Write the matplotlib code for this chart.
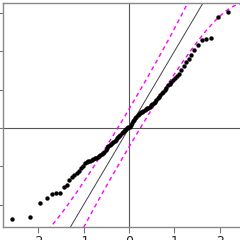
import numpy as np
import matplotlib
matplotlib.use("Agg")
import matplotlib.pyplot as plt
from statistics import NormalDist

plt.rcParams['axes.unicode_minus'] = False

# sorted sample values
sample_low = [-1.18, -1.16, -0.97, -0.91, -0.86, -0.85, -0.845, -0.77, -0.735, -0.675,
              -0.64, -0.61, -0.58, -0.555, -0.52, -0.49, -0.46, -0.445, -0.435, -0.425,
              -0.415, -0.405, -0.395, -0.385, -0.375, -0.365, -0.35, -0.34, -0.33, -0.31,
              -0.285, -0.26, -0.24, -0.225, -0.21, -0.195, -0.18, -0.165, -0.15, -0.135,
              -0.12, -0.10, -0.085, -0.07, -0.055, -0.04, -0.025, -0.01, 0.0, 0.01]
sample_high = [0.02, 0.045, 0.065, 0.09, 0.11, 0.13, 0.15, 0.165, 0.18, 0.195,
               0.205, 0.215, 0.225, 0.235, 0.245, 0.255, 0.265, 0.28, 0.295, 0.31,
               0.325, 0.345, 0.36, 0.385, 0.41, 0.43, 0.45, 0.465, 0.49, 0.52,
               0.555, 0.57, 0.60, 0.625, 0.65, 0.675, 0.705, 0.76, 0.81, 0.865,
               0.895, 0.95, 1.01, 1.085, 1.14, 1.165, 1.17, 1.45, 1.51, 1.52]
sample = np.sort(np.array(sample_low + sample_high))

x_ticks = [-2, -1, 0, 1, 2]
y_ticks = [-1.0, -0.5, 0.0, 0.5, 1.0, 1.5]
conf_level = 0.95

nd = NormalDist()
n = len(sample)
a = 0.5 if n > 10 else 3 / 8
probs = (np.arange(1, n + 1) - a) / (n + 1 - 2 * a)
theo = np.array([nd.inv_cdf(p) for p in probs])

# pointwise confidence envelope around y = x
grid = np.linspace(-3.5, 3.5, 400)
z = nd.inv_cdf(0.5 + conf_level / 2)
pg = np.array([nd.cdf(v) for v in grid])
dg = np.array([nd.pdf(v) for v in grid])
se = np.sqrt(pg * (1 - pg) / n) / dg

fig = plt.figure(figsize=(2.4, 2.4), dpi=100)
ax = fig.add_axes([2.5 / 240, 13 / 240, 253 / 240, 224 / 240])

gray = '#555555'
ax.axhline(0, color=gray, lw=0.8, zorder=1)
ax.axvline(0, color=gray, lw=0.8, zorder=1)
ax.plot(grid, grid, color='#444444', lw=0.7, zorder=2)
ax.plot(grid, grid + z * se, color='#ff00ff', lw=1.0, dashes=(3, 2.5), zorder=2)
ax.plot(grid, grid - z * se, color='#ff00ff', lw=1.0, dashes=(3, 2.5), zorder=2)
ax.scatter(theo, sample, s=10, color='black', linewidths=0, zorder=3)

xr = theo.max() - theo.min()
yr = sample.max() - sample.min()
ax.set_xlim(theo.min() - 0.04 * xr, theo.max() + 0.04 * xr)
ax.set_ylim(sample.min() - 0.04 * yr, sample.max() + 0.04 * yr)

ax.set_xticks(x_ticks)
ax.set_xticklabels([str(t) for t in x_ticks])
ax.set_yticks(y_ticks)
ax.set_yticklabels([f"{t:g}" for t in y_ticks])
ax.tick_params(direction='out', length=4, width=0.8, color='#777777',
               labelsize=9, pad=1.5, labelcolor='#222222')
for s in ax.spines.values():
    s.set_color('#888888')
    s.set_linewidth(1.0)

fig.savefig('out.png', dpi=100)
